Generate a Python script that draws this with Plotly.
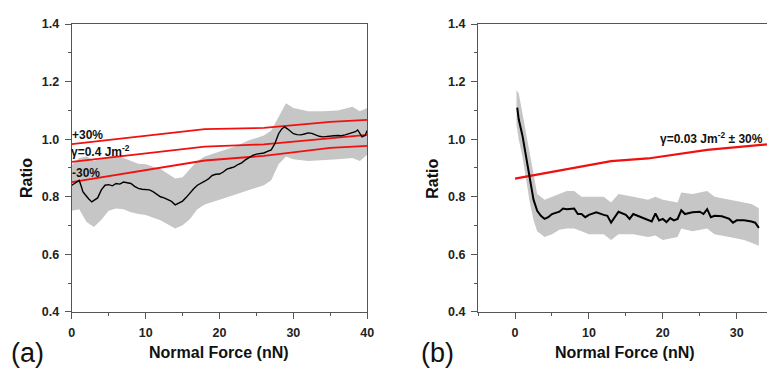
import plotly.graph_objects as go

W, H = 774, 376

# ---------- panel (a) data ----------
a_x = [0, 0.5, 1, 1.3, 1.5, 1.8, 2, 2.3, 2.7, 3.1, 3.5, 4, 4.5, 5, 5.5, 6, 6.5, 7, 7.5,
       8, 8.5, 9, 9.5, 10, 10.5, 11, 11.5, 12, 12.5, 13, 13.5, 14, 14.5, 15, 15.5,
       16, 16.5, 17, 17.5, 18, 18.5, 19, 19.5, 20, 20.5, 21, 21.5, 22, 22.5, 23,
       23.5, 24, 24.5, 25, 25.5, 26, 26.5, 27, 27.5, 28, 28.4, 28.8, 29.2, 29.5, 30,
       30.5, 31, 31.5, 32, 32.5, 33, 33.5, 34, 34.5, 35, 35.5, 36, 36.5, 37, 37.5,
       38, 38.4, 38.7, 39, 39.3, 39.7, 40]
a_y = [0.840, 0.850, 0.857, 0.835, 0.818, 0.808, 0.800, 0.792, 0.782, 0.790, 0.796,
       0.824, 0.840, 0.842, 0.838, 0.846, 0.844, 0.851, 0.848, 0.846, 0.836, 0.829,
       0.826, 0.826, 0.824, 0.818, 0.810, 0.800, 0.796, 0.790, 0.784, 0.772, 0.778,
       0.785, 0.798, 0.815, 0.828, 0.840, 0.846, 0.854, 0.862, 0.874, 0.878, 0.879,
       0.886, 0.896, 0.900, 0.904, 0.912, 0.918, 0.928, 0.935, 0.944, 0.948, 0.950,
       0.952, 0.958, 0.963, 0.985, 1.019, 1.035, 1.043, 1.036, 1.030, 1.019, 1.016,
       1.015, 1.018, 1.022, 1.020, 1.015, 1.010, 1.008, 1.010, 1.011, 1.012, 1.013,
       1.012, 1.015, 1.018, 1.022, 1.026, 1.032, 1.020, 1.008, 1.013, 1.030]

a_band_x = [0, 1, 2, 3, 4, 5, 6, 7, 8, 9, 10, 12, 14, 15, 16, 17, 18, 20, 22, 24,
            26, 27, 28, 29, 30, 32, 34, 36, 38, 39, 40]
a_band_hi = [0.910, 0.935, 0.940, 0.924, 0.935, 0.940, 0.944, 0.935, 0.926, 0.915,
             0.913, 0.896, 0.863, 0.868, 0.896, 0.924, 0.940, 0.957, 0.974, 0.996,
             1.013, 1.030, 1.080, 1.125, 1.108, 1.097, 1.097, 1.100, 1.113, 1.097, 1.108]
a_band_lo = [0.751, 0.757, 0.712, 0.695, 0.720, 0.751, 0.759, 0.757, 0.746, 0.740,
             0.737, 0.718, 0.690, 0.701, 0.723, 0.757, 0.773, 0.790, 0.807, 0.824,
             0.840, 0.857, 0.913, 0.940, 0.930, 0.924, 0.926, 0.930, 0.935, 0.924, 0.946]

a_fit_x = [0, 18, 26, 35, 40]
a_fit_plus = [0.983, 1.035, 1.039, 1.060, 1.067]
a_fit_mid = [0.921, 0.974, 0.982, 1.003, 1.015]
a_fit_minus = [0.851, 0.926, 0.942, 0.970, 0.977]

# ---------- panel (b) data ----------
b_x = [0.3, 0.5, 1, 1.5, 2, 2.5, 3, 3.5, 4, 4.5, 5, 6, 6.5, 7, 8, 8.5, 9, 9.5, 10,
       11, 12, 12.5, 13, 13.5, 14, 15, 15.5, 16, 17, 18, 18.5, 19, 19.5, 20, 20.5,
       21, 21.5, 22, 22.5, 23, 24, 25, 25.5, 26, 26.5, 27, 28, 29, 29.5, 30, 31,
       32, 32.5, 33]
b_y = [1.110, 1.069, 1.013, 0.935, 0.857, 0.790, 0.751, 0.734, 0.723, 0.729, 0.740,
       0.748, 0.759, 0.757, 0.759, 0.740, 0.740, 0.729, 0.737, 0.746, 0.737, 0.734,
       0.710, 0.729, 0.748, 0.737, 0.723, 0.740, 0.729, 0.718, 0.714, 0.742, 0.718,
       0.723, 0.712, 0.726, 0.718, 0.723, 0.753, 0.740, 0.746, 0.748, 0.740, 0.757,
       0.729, 0.734, 0.732, 0.723, 0.710, 0.718, 0.718, 0.714, 0.710, 0.692]

b_band_x = [0.2, 0.5, 1, 1.5, 2, 2.5, 3, 4, 5, 6, 7, 8, 9, 10, 12, 13, 14, 16, 18,
            19, 20, 22, 22.5, 24, 26, 27, 29, 31, 32, 33]
b_band_hi = [1.170, 1.160, 1.090, 1.020, 0.940, 0.870, 0.810, 0.790, 0.800, 0.810,
             0.820, 0.820, 0.800, 0.800, 0.800, 0.780, 0.810, 0.800, 0.790, 0.800,
             0.790, 0.780, 0.815, 0.810, 0.820, 0.800, 0.790, 0.780, 0.775, 0.760]
b_band_lo = [1.050, 1.000, 0.940, 0.860, 0.780, 0.720, 0.680, 0.660, 0.670, 0.685,
             0.690, 0.690, 0.680, 0.670, 0.670, 0.650, 0.670, 0.670, 0.660, 0.665,
             0.650, 0.660, 0.690, 0.680, 0.690, 0.670, 0.660, 0.650, 0.640, 0.630]

b_fit_x = [0, 13, 18, 26, 34.1]
b_fit_y = [0.863, 0.924, 0.933, 0.963, 0.982]

y_ticks = [0.4, 0.6, 0.8, 1.0, 1.2, 1.4]
y_ticklabels = ["0.4", "0.6", "0.8", "1.0", "1.2", "1.4"]

RED = "#f01010"
GRAY = "#c6c6c6"
AXC = "#555555"
FONT = "Liberation Sans, Arial, sans-serif"

fig = go.Figure()

# panel a
fig.add_trace(go.Scatter(x=a_band_x + a_band_x[::-1], y=a_band_hi + a_band_lo[::-1],
                         fill="toself", fillcolor=GRAY, line=dict(width=0),
                         mode="lines", xaxis="x", yaxis="y", hoverinfo="skip"))
for fy in (a_fit_plus, a_fit_mid, a_fit_minus):
    fig.add_trace(go.Scatter(x=a_fit_x, y=fy, mode="lines",
                             line=dict(color=RED, width=1.8), xaxis="x", yaxis="y"))
fig.add_trace(go.Scatter(x=a_x, y=a_y, mode="lines",
                         line=dict(color="black", width=1.4), xaxis="x", yaxis="y"))

# panel b
fig.add_trace(go.Scatter(x=b_band_x + b_band_x[::-1], y=b_band_hi + b_band_lo[::-1],
                         fill="toself", fillcolor=GRAY, line=dict(width=0),
                         mode="lines", xaxis="x2", yaxis="y2", hoverinfo="skip"))
fig.add_trace(go.Scatter(x=b_fit_x, y=b_fit_y, mode="lines",
                         line=dict(color=RED, width=2.2), xaxis="x2", yaxis="y2"))
fig.add_trace(go.Scatter(x=b_x, y=b_y, mode="lines",
                         line=dict(color="black", width=2), xaxis="x2", yaxis="y2"))

YDOM = [59.3 / H, 358.3 / H]
TICKFONT = dict(family=FONT, size=12.5, color="#222", weight="bold")

common_x = dict(showline=True, linecolor=AXC, linewidth=1.2, ticks="outside",
                ticklen=6, tickwidth=1.2, tickcolor=AXC, showgrid=False, zeroline=False,
                tickfont=TICKFONT, ticklabelstandoff=3,
                minor=dict(ticks="outside", ticklen=3, tickwidth=1.2, tickcolor=AXC, dtick=5))
common_y = dict(showline=True, linecolor=AXC, linewidth=1.2, ticks="outside",
                ticklen=6, tickwidth=1.2, tickcolor=AXC, showgrid=False, zeroline=False,
                range=[0.4, 1.4], tickvals=y_ticks, ticktext=y_ticklabels,
                tickfont=TICKFONT, ticklabelstandoff=3,
                minor=dict(ticks="outside", ticklen=3, tickwidth=1.2, tickcolor=AXC,
                           dtick=0.1, tick0=0.4))

fig.update_layout(
    width=W, height=H, margin=dict(l=0, r=0, t=0, b=0),
    paper_bgcolor="white", plot_bgcolor="white", showlegend=False,
    font=dict(family=FONT, color="#222"),
    xaxis=dict(domain=[69.7 / W, 369 / W], range=[0, 40], dtick=10, tick0=0,
               mirror=True, anchor="y", **common_x),
    yaxis=dict(domain=YDOM, mirror=True, anchor="x", **common_y),
    xaxis2=dict(domain=[481.3 / W, 1.0], range=[-5, 34.1], dtick=10, tick0=0,
                mirror=True, anchor="y2", **common_x),
    yaxis2=dict(domain=YDOM, mirror=False, anchor="x2", **common_y),
)

def px(xp, yp):
    return xp / W, 1 - yp / H

anns = []
def ann(text, xp, yp, size, bold=True, xanchor="center", angle=0):
    x, y = px(xp, yp)
    anns.append(dict(text=f"<b>{text}</b>" if bold else text, x=x, y=y,
                     xref="paper", yref="paper", showarrow=False,
                     xanchor=xanchor, yanchor="middle", textangle=angle,
                     font=dict(family=FONT, size=size, color="#111")))

ann("Normal Force (nN)", 219, 359, 16)
ann("Normal Force (nN)", 630, 359, 16)
ann("Ratio", 24, 178, 16, angle=-90)
ann("Ratio", 435, 178, 16, angle=-90)
ann("(a)", 25, 359, 27, bold=False)
ann("(b)", 440, 359, 27, bold=False)
ann("+30%", 68, 133, 12, xanchor="left")
ann("γ=0.4 Jm<sup>-2</sup>", 67, 150, 12, xanchor="left")
ann("-30%", 68, 172, 12, xanchor="left")
ann("γ=0.03 Jm<sup>-2</sup> ± 30%", 664, 136, 12, xanchor="left")
fig.update_layout(annotations=anns)

fig.write_html("out.html")
